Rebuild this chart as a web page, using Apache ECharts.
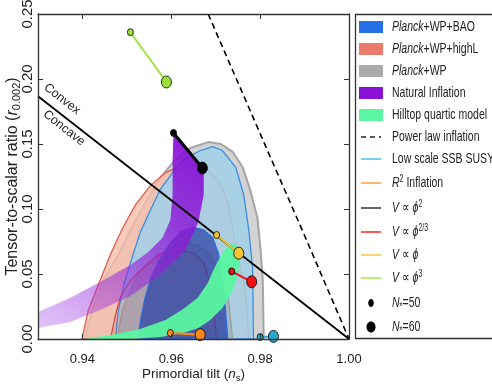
<!DOCTYPE html>
<html><head><meta charset="utf-8">
<script src="https://cdn.jsdelivr.net/npm/echarts@6/dist/echarts.min.js"></script>
<style>html,body{margin:0;padding:0;background:#fff}#c{width:492px;height:391px}</style>
</head><body><div id="c"></div>
<script>
// ---------- data (ns, r) ----------
const xTicks = [0.94, 0.96, 0.98, 1.00];
const yTicks = [0.00, 0.05, 0.10, 0.15, 0.20, 0.25];

const planckWP95 = [[0.9406,0],[0.9422,0.022],[0.9447,0.045],[0.9481,0.065],[0.9508,0.084],[0.9542,0.105],[0.9575,0.124],[0.9609,0.138],[0.9643,0.147],[0.9684,0.1515],[0.9711,0.150],[0.9738,0.144],[0.9761,0.132],[0.9779,0.113],[0.9794,0.093],[0.9801,0.0685],[0.9806,0.045],[0.9808,0]];
const highL95 = [[0.9399,0],[0.9413,0.022],[0.9435,0.041],[0.9463,0.065],[0.9490,0.085],[0.9519,0.103],[0.9553,0.118],[0.9587,0.128],[0.9621,0.133],[0.9654,0.133],[0.9684,0.130],[0.9711,0.119],[0.9727,0.105],[0.9738,0.085],[0.9749,0.065],[0.9761,0.047],[0.9770,0.026],[0.9774,0]];
const bao95 = [[0.9474,0],[0.9481,0.022],[0.9496,0.045],[0.9514,0.065],[0.9530,0.082],[0.9553,0.099],[0.9575,0.115],[0.9603,0.128],[0.9632,0.139],[0.9666,0.145],[0.9693,0.148],[0.9715,0.145],[0.9745,0.132],[0.9763,0.111],[0.9774,0.085],[0.9783,0.055],[0.9785,0]];
const planckWP68 = [[0.9478,0],[0.9490,0.022],[0.9508,0.038],[0.9530,0.0515],[0.9564,0.062],[0.9598,0.070],[0.9632,0.074],[0.9659,0.072],[0.9688,0.065],[0.9711,0.049],[0.9729,0.030],[0.9738,0]];
const highL68 = [[0.9463,0],[0.9474,0.018],[0.9485,0.032],[0.9508,0.045],[0.9537,0.055],[0.9571,0.065],[0.9598,0.068],[0.9627,0.068],[0.9650,0.066],[0.9673,0.059],[0.9686,0.044],[0.9695,0.022],[0.9702,0]];
const bao68 = [[0.9525,0],[0.9531,0.0146],[0.9540,0.030],[0.9553,0.0460],[0.9572,0.0600],[0.9596,0.0730],[0.9621,0.0820],[0.9648,0.0860],[0.9673,0.0840],[0.9693,0.0780],[0.9706,0.066],[0.9715,0.045],[0.9722,0.022],[0.9727,0]];

const naturalN50 = [[0.9605,0.1585],[0.9603,0.1377],[0.9603,0.1108],[0.9598,0.0915],[0.9580,0.0777],[0.9548,0.0669],[0.9508,0.0569],[0.9440,0.0438],[0.9372,0.0315],[0.9300,0.0208]];
const naturalN60 = [[0.9673,0.1323],[0.9673,0.1108],[0.9661,0.090],[0.9632,0.0685],[0.9575,0.0492],[0.9508,0.0331],[0.9440,0.0223],[0.9372,0.0131],[0.9300,0.0085]];
const hilltopN50 = [[0.9402,0],[0.9463,0.003],[0.9530,0.0077],[0.9587,0.0146],[0.9627,0.0231],[0.9659,0.0315],[0.9682,0.0431],[0.9697,0.0546],[0.9711,0.0638],[0.9724,0.0708],[0.9738,0.0738]];
const hilltopN60 = [[0.9508,0],[0.9575,0.0015],[0.9627,0.0046],[0.9661,0.0085],[0.9688,0.0146],[0.9715,0.0238],[0.9736,0.0354],[0.9749,0.0485],[0.9754,0.0608],[0.9749,0.0708]];

const convexLine = [[0.93,0.1867],[1.00,0]];
const powerLaw = [[0.9683,0.25],[0.98,0.158],[0.99,0.0796],[1.00,0]];
const phi2 = [[0.9605,0.1585],[0.9670,0.1315]];
const phi23 = [[0.9736,0.052],[0.9781,0.044]];
const phi1 = [[0.9702,0.080],[0.9752,0.066]];
const phi3 = [[0.9508,0.236],[0.9589,0.1977]];
const starobinsky = [[0.9598,0.0046],[0.9665,0.0033]];
const ssbSusy = [[0.9800,0.0015],[0.9830,0.0020]];

const legendLabels = ['{i|Planck}+WP+BAO','{i|Planck}+WP+highL','{i|Planck}+WP','Natural Inflation','Hilltop quartic model','Power law inflation','Low scale SSB SUSY','{i|R}{sup|2} Inflation','{i|V} ∝ {i|ϕ}{sup|2}','{i|V} ∝ {i|ϕ}{sup|2/3}','{i|V} ∝ {i|ϕ}','{i|V} ∝ {i|ϕ}{sup|3}','{i|N}{sub|*}=50','{i|N}{sub|*}=60'];

// ---------- rendering ----------
const SANS = "'Liberation Sans',Arial,sans-serif";
const TXT = '#222';

function poly(name, pts, fill, stroke, lw, z) {
  return {
    type: 'custom', name, coordinateSystem: 'cartesian2d', z, silent: true, clip: true,
    data: pts, encode: {x: 0, y: 1},
    renderItem: function (params, api) {
      if (params.dataIndex !== 0) return null;
      const points = pts.map(p => api.coord(p));
      return {type: 'polygon', shape: {points}, style: {fill, stroke, lineWidth: lw}};
    }
  };
}
function model(name, pts, color, lw, z) {
  return {
    type: 'line', name, z, clip: false, silent: true,
    data: [{value: pts[0], symbolSize: [6, 7]}, {value: pts[1], symbolSize: [10, 12]}],
    symbol: 'circle',
    lineStyle: {color, width: lw},
    itemStyle: {color, borderColor: '#000', borderWidth: 0.8}
  };
}

const bandNatural = naturalN50.concat(naturalN60.slice().reverse());
const bandHilltop = hilltopN50.concat(hilltopN60.slice().reverse());

const purpleFill = {type: 'linear', x: 0.9, y: 0, x2: 0, y2: 1, global: false, colorStops: [
  {offset: 0, color: 'rgba(135,15,215,0.95)'},
  {offset: 0.35, color: 'rgba(140,25,215,0.8)'},
  {offset: 0.7, color: 'rgba(150,45,220,0.5)'},
  {offset: 1, color: 'rgba(170,80,230,0.35)'}]};

const series = [
  poly('Planck+WP 95', planckWP95, '#d3d3d3', '#a4a4a4', 2, 1),
  poly('Planck+WP+highL 95', highL95, 'rgba(250,188,168,0.78)', '#e35b4b', 1.3, 2),
  poly('Planck+WP+BAO 95', bao95, 'rgba(160,208,233,0.85)', '#3a8de2', 1.3, 3),
  poly('Planck+WP 68', planckWP68, 'rgba(140,140,150,0.35)', '#9a9a9a', 1.2, 4),
  poly('Planck+WP+highL 68', highL68, 'rgba(220,90,80,0.22)', '#d5453c', 1.2, 5),
  poly('Planck+WP+BAO 68', bao68, 'rgba(40,62,165,0.72)', '#2f6ad6', 1.3, 6),
  poly('Natural Inflation', bandNatural, purpleFill, null, 0, 7),
  poly('Hilltop quartic model', bandHilltop, 'rgba(88,245,160,0.95)', null, 0, 8),
  {type: 'line', name: 'Convex/Concave', z: 10, silent: true, symbol: 'none', data: convexLine,
   lineStyle: {color: '#000', width: 1.8}},
  {type: 'line', name: 'Power law inflation', z: 10, silent: true, symbol: 'none', data: powerLaw,
   lineStyle: {color: '#000', width: 1.6, type: [6, 4]}},
  model('V ∝ φ²', phi2, '#000', 3, 12),
  model('V ∝ φ^(2/3)', phi23, '#f01010', 2, 12),
  model('V ∝ φ', phi1, '#f5c430', 2, 12),
  model('V ∝ φ³', phi3, '#9be23a', 1.8, 12),
  model('R² Inflation', starobinsky, '#ff8a1a', 2.2, 12),
  model('Low scale SSB SUSY', ssbSusy, '#25a9cf', 2, 12)
];

// legend via graphic (text squeezed horizontally like the reference)
const rowY = [27, 49, 71, 93, 115, 137, 159, 183, 208, 232, 255, 278, 303, 327];
const legendKinds = ['rect','rect','rect','rect','rect','dash','line','line','line','line','line','line','dot','bigdot'];
const legendColors = ['#2470e4','#e97a6c','#aaaaaa','#8a12d6','#5cf5a2','#222','#48c3ea','#ff9c45','#333','#ff2020','#f5c842','#a2e84a','#000','#000'];
const rich = {
  i: {fontStyle: 'italic', fontFamily: SANS, fontSize: 15, lineHeight: 18, fill: TXT},
  sup: {fontFamily: SANS, fontSize: 10, lineHeight: 9, verticalAlign: 'top', fill: TXT},
  sub: {fontFamily: SANS, fontSize: 11, lineHeight: 10, verticalAlign: 'bottom', fill: TXT}
};
const graphic = [{type: 'rect', z: 100, shape: {x: 355.5, y: 14.5, width: 150, height: 324}, style: {fill: '#fff', stroke: '#333', lineWidth: 1.3}}];
legendLabels.forEach((lab, k) => {
  const y = rowY[k], kind = legendKinds[k], c = legendColors[k];
  if (kind === 'rect') graphic.push({type: 'rect', z: 101, shape: {x: 359, y: y - 6, width: 24, height: 12}, style: {fill: c}});
  else if (kind === 'line' || kind === 'dash') graphic.push({type: 'line', z: 101, shape: {x1: 361, y1: y, x2: 381, y2: y}, style: {stroke: c, lineWidth: 1.5, lineDash: kind === 'dash' ? [5, 4] : null}});
  else if (kind === 'dot') graphic.push({type: 'ellipse', z: 101, shape: {cx: 371, cy: y, rx: 2.8, ry: 4}, style: {fill: c}});
  else graphic.push({type: 'ellipse', z: 101, shape: {cx: 371, cy: y, rx: 4.5, ry: 5.5}, style: {fill: c}});
  graphic.push({type: 'text', z: 102, x: 392, y: y, scaleX: 0.70, style: {text: lab, fill: TXT, fontFamily: SANS, fontSize: 15, lineHeight: 18, verticalAlign: 'middle', align: 'left', rich}});
});
graphic.push({type: 'text', z: 30, x: 62, y: 99, rotation: -0.665, style: {text: 'Convex', fill: TXT, fontFamily: SANS, fontSize: 12.5, align: 'center', verticalAlign: 'middle'}});
graphic.push({type: 'text', z: 30, x: 64, y: 128, rotation: -0.665, style: {text: 'Concave', fill: TXT, fontFamily: SANS, fontSize: 12.5, align: 'center', verticalAlign: 'middle'}});

const axisLine = {onZero: false, lineStyle: {color: '#333', width: 1.3}};
const tickStyle = {color: '#333', width: 1};
const option = {
  animation: false,
  backgroundColor: '#fff',
  grid: {left: 38, right: 143, top: 14, bottom: 52, containLabel: false, outerBoundsMode: 'none'},
  xAxis: [
    {type: 'value', min: 0.93, max: 1.0, position: 'bottom', z: 50, axisLine,
     axisTick: {inside: true, length: 5, customValues: xTicks, lineStyle: tickStyle},
     axisLabel: {customValues: xTicks, formatter: v => v.toFixed(2), color: TXT, fontFamily: SANS, fontSize: 13, margin: 14},
     splitLine: {show: false},
     name: 'Primordial tilt ({i|n}{sub|s})', nameLocation: 'middle', nameGap: 26, nameMoveOverlap: false,
     nameTextStyle: {color: TXT, fontFamily: SANS, fontSize: 13.5, lineHeight: 18,
       rich: {i: {fontStyle: 'italic', fontFamily: SANS, fontSize: 13.5, lineHeight: 18, color: TXT},
              sub: {fontFamily: SANS, fontSize: 9.5, lineHeight: 10, verticalAlign: 'bottom', color: TXT}}}},
    {type: 'value', min: 0.93, max: 1.0, position: 'top', z: 50, axisLine,
     axisTick: {inside: true, length: 5, customValues: xTicks, lineStyle: tickStyle},
     axisLabel: {show: false}, splitLine: {show: false}}
  ],
  yAxis: [
    {type: 'value', min: 0, max: 0.25, interval: 0.05, position: 'left', z: 50, axisLine,
     axisTick: {inside: true, length: 5, lineStyle: tickStyle},
     axisLabel: {rotate: 90, formatter: v => v.toFixed(2), color: TXT, fontFamily: SANS, fontSize: 15, margin: 3},
     splitLine: {show: false},
     name: 'Tensor-to-scalar ratio ({i|r}{sub|0.002})', nameLocation: 'middle', nameRotate: 90, nameGap: 16, nameMoveOverlap: false,
     nameTextStyle: {color: TXT, fontFamily: SANS, fontSize: 16, lineHeight: 18,
       rich: {i: {fontStyle: 'italic', fontFamily: SANS, fontSize: 16, lineHeight: 18, color: TXT},
              sub: {fontFamily: SANS, fontSize: 11, lineHeight: 10, verticalAlign: 'bottom', color: TXT}}}},
    {type: 'value', min: 0, max: 0.25, interval: 0.05, position: 'right', z: 50, axisLine,
     axisTick: {inside: true, length: 5, lineStyle: tickStyle},
     axisLabel: {show: false}, splitLine: {show: false}}
  ],
  series,
  graphic
};
const chart = echarts.init(document.getElementById('c'));
chart.setOption(option);
</script>
</body></html>
